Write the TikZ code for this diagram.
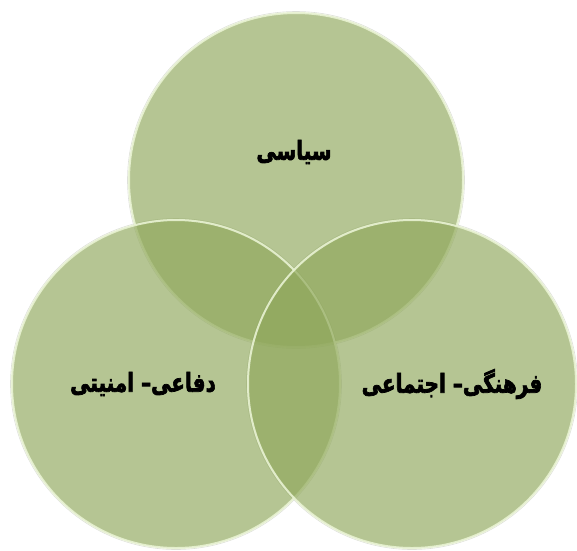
\documentclass[tikz,border=0pt]{standalone}
\usepackage{fontspec}
\usepackage{graphicx}
\TeXXeTstate=1
\newfontface\arabicbold[Script=Arabic, FakeBold=2.8]{DejaVu Sans Bold}
\newcommand\tallR[1]{\scalebox{1}[1.3]{\beginR #1\endR}}
\definecolor{circfill}{RGB}{143,167,91}
\definecolor{rimcol}{RGB}{232,242,210}
\definecolor{edgecol}{RGB}{200,205,190}
\begin{document}
\begin{tikzpicture}[x=1pt,y=-1pt,
  venn/.style={circle, minimum size=#1, inner sep=0pt, outer sep=0pt,
    fill=circfill, fill opacity=0.66, draw=rimcol, line width=2pt, draw opacity=0.9},
  halo/.style={circle, minimum size=#1, inner sep=0pt, draw=edgecol, line width=0.6pt, draw opacity=0.6},
  lbl/.style={font=\arabicbold\fontsize{20}{24}\selectfont, text=black, inner sep=0pt}]
\useasboundingbox (0,0) rectangle (577,550);
\node[halo=337pt] (toph) at (296,180) {};
\node[halo=331pt] (lefth) at (176,384) {};
\node[halo=331pt] (righth) at (412,384) {};
\node[venn=334pt] (top) at (296,180) {};
\node[venn=328pt] (left) at (176,384) {};
\node[venn=328pt] (right) at (412,384) {};
\node[lbl] (tt) at (294,152) {\tallR{سیاسی}};
\node[lbl] (lt) at (143,384) {\tallR{دفاعی– امنیتی}};
\node[lbl] (rt) at (452,384) {\tallR{فرهنگی– اجتماعی}};
\end{tikzpicture}
\end{document}
